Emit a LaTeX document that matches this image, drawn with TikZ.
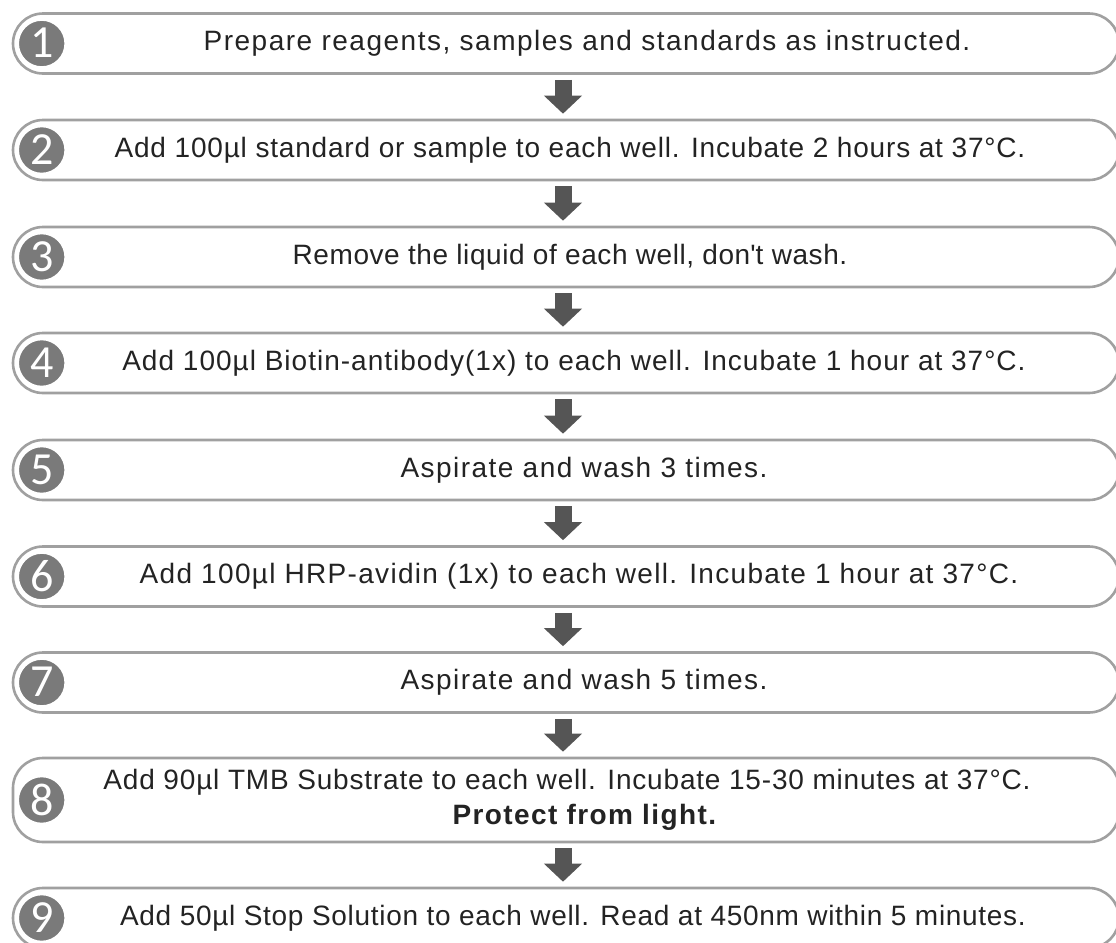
\documentclass[tikz,border=0pt]{standalone}
\usepackage{fontspec}
\setmainfont{Liberation Sans}
\newfontfamily\numfont{Carlito}
\usetikzlibrary{arrows.meta,calc}
\definecolor{boxline}{RGB}{160,160,160}
\definecolor{badge}{RGB}{122,122,122}
\definecolor{arrowgray}{RGB}{85,85,85}
\definecolor{txt}{RGB}{35,35,35}
\newcommand\lsp[2]{{\addfontfeature{LetterSpace=#1}#2}}
\tikzset{
  stepbox/.style={draw=boxline, line width=1.3pt, fill=white, rounded corners=15pt,
    minimum width=553pt, minimum height=#1, inner sep=0pt},
  stepbox/.default=30pt,
  steptext/.style={text=txt, font=\fontsize{14}{17.5}\selectfont, align=center, inner sep=0pt},
  badgecirc/.style={circle, fill=badge, draw=white, line width=0.8pt, minimum size=23.5pt, inner sep=0pt,
    text=white, font=\numfont\fontsize{23}{23}\selectfont},
  flowarrow/.style={draw=arrowgray, line width=8.5pt,
    -{Triangle[width=18.5pt,length=9pt]}, shorten <=2.5pt, shorten >=2.5pt}
}
\begin{document}
\begin{tikzpicture}[x=0.5pt,y=-0.5pt]
\useasboundingbox (0,0) rectangle (1116,943);
\coordinate (ax) at (563,0);
% boxes
\node[stepbox] (b1) at (566,43.5) {};
\node[stepbox] (b2) at (566,150) {};
\node[stepbox] (b3) at (566,257) {};
\node[stepbox] (b4) at (566,363) {};
\node[stepbox] (b5) at (566,470) {};
\node[stepbox] (b6) at (566,576.5) {};
\node[stepbox] (b7) at (566,682.5) {};
\node[stepbox=42pt] (b8) at (566,800) {};
\node[stepbox] (b9) at (566,918) {};
% badges
\foreach \i in {1,...,9}{
  \node[badgecirc] (n\i) at ($(b\i.west)+(30,0)$) {\raisebox{0.6pt}{\i}};
}
% texts
\node[steptext] (t1) at ([xshift=10.5pt]b1.center) {\lsp{5.4}{Prepare reagents, samples and standards as instructed.}};
\node[steptext] (t2) at ([xshift=2pt]b2.center) {\lsp{2.9}{Add 100µl standard or sample to each well. Incubate 2 hours at 37°C.}};
\node[steptext] (t3) at ([xshift=2pt]b3.center) {\lsp{2.0}{Remove the liquid of each well, don\textquotesingle t wash.}};
\node[steptext] (t4) at ([xshift=4pt]b4.center) {\lsp{3.6}{Add 100µl Biotin-antibody(1x) to each well. Incubate 1 hour at 37°C.}};
\node[steptext] (t5) at ([xshift=9pt]b5.center) {\lsp{5.2}{Aspirate and wash 3 times.}};
\node[steptext] (t6) at ([xshift=6.5pt]b6.center) {\lsp{4.7}{Add 100µl HRP-avidin (1x) to each well. Incubate 1 hour at 37°C.}};
\node[steptext] (t7) at ([xshift=9pt]b7.center) {\lsp{5.2}{Aspirate and wash 5 times.}};
\node[steptext] (t8) at ([xshift=0.5pt]b8.center) {\lsp{2.9}{Add 90µl TMB Substrate to each well. Incubate 15-30 minutes at 37°C.}\\\hspace*{18pt}\lsp{5}{\textbf{Protect from light.}}};
\node[steptext] (t9) at ([xshift=3.5pt]b9.center) {\lsp{2.5}{Add 50µl Stop Solution to each well. Read at 450nm within 5 minutes.}};
% arrows
\foreach \a/\b in {1/2,2/3,3/4,4/5,5/6,6/7,7/8,8/9}{
  \draw[flowarrow] (b\a.south -| ax) -- (b\b.north -| ax);
}
\end{tikzpicture}
\end{document}
